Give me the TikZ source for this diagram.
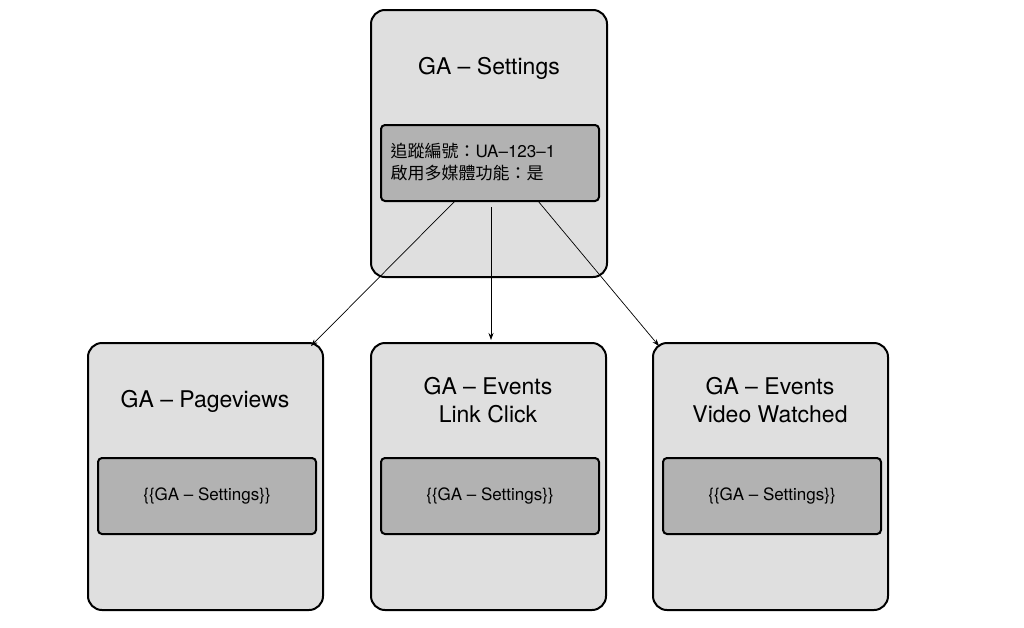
\documentclass[tikz,border=0pt]{standalone}
\usepackage{fontspec}
\setmainfont{TeX Gyre Heros}
\newfontfamily\cjk{Noto Sans CJK TC}
\usetikzlibrary{arrows.meta}
\begin{document}
\begin{tikzpicture}[x=1pt,y=-1pt,
 outer/.style={draw=black,line width=2pt,fill=gray!25,rounded corners=14pt},
 inner/.style={draw=black,line width=2pt,fill=gray!60,rounded corners=4pt},
 big/.style={font=\fontsize{23}{28}\selectfont,align=center},
 small/.style={font=\fontsize{17}{22}\selectfont,align=left},
 arr/.style={-{Stealth[length=7pt,width=5pt]},line width=0.7pt}]
\useasboundingbox (0,0) rectangle (1024,627);
\draw[outer] (371,10) rectangle (607,277);
\draw[outer] (88,343) rectangle (323,610);
\draw[outer] (371,343) rectangle (606,610);
\draw[outer] (653,343) rectangle (888,610);
\node[inner,minimum width=218pt,minimum height=76pt,anchor=north west] (s) at (380,124) {};
\node[small,anchor=west] at (387,162) {{\cjk 追蹤編號：}UA–123–1\\{\cjk 啟用多媒體功能：是}};
\node[big] (t0) at (489,68) {GA – Settings};
\node[big] (t1) at (205,401) {GA – Pageviews};
\node[big] (t2) at (488,400) {GA – Events\\Link Click};
\node[big] (t3) at (770,400) {GA – Events\\Video Watched};
\node[inner,minimum width=218pt,minimum height=76pt,anchor=north west,small] (i1) at (97,457) {\{\{GA – Settings\}\}};
\node[inner,minimum width=218pt,minimum height=76pt,anchor=north west,small] (i2) at (380,457) {\{\{GA – Settings\}\}};
\node[inner,minimum width=218pt,minimum height=76pt,anchor=north west,small] (i3) at (662,457) {\{\{GA – Settings\}\}};
\coordinate (a1) at (455,201); \coordinate (b1) at (311,346);
\coordinate (a2) at (491,207); \coordinate (b2) at (491,340);
\coordinate (a3) at (538,201); \coordinate (b3) at (659,346);
\draw[arr] (a1) -- (b1);
\draw[arr] (a2) -- (b2);
\draw[arr] (a3) -- (b3);
\end{tikzpicture}
\end{document}
